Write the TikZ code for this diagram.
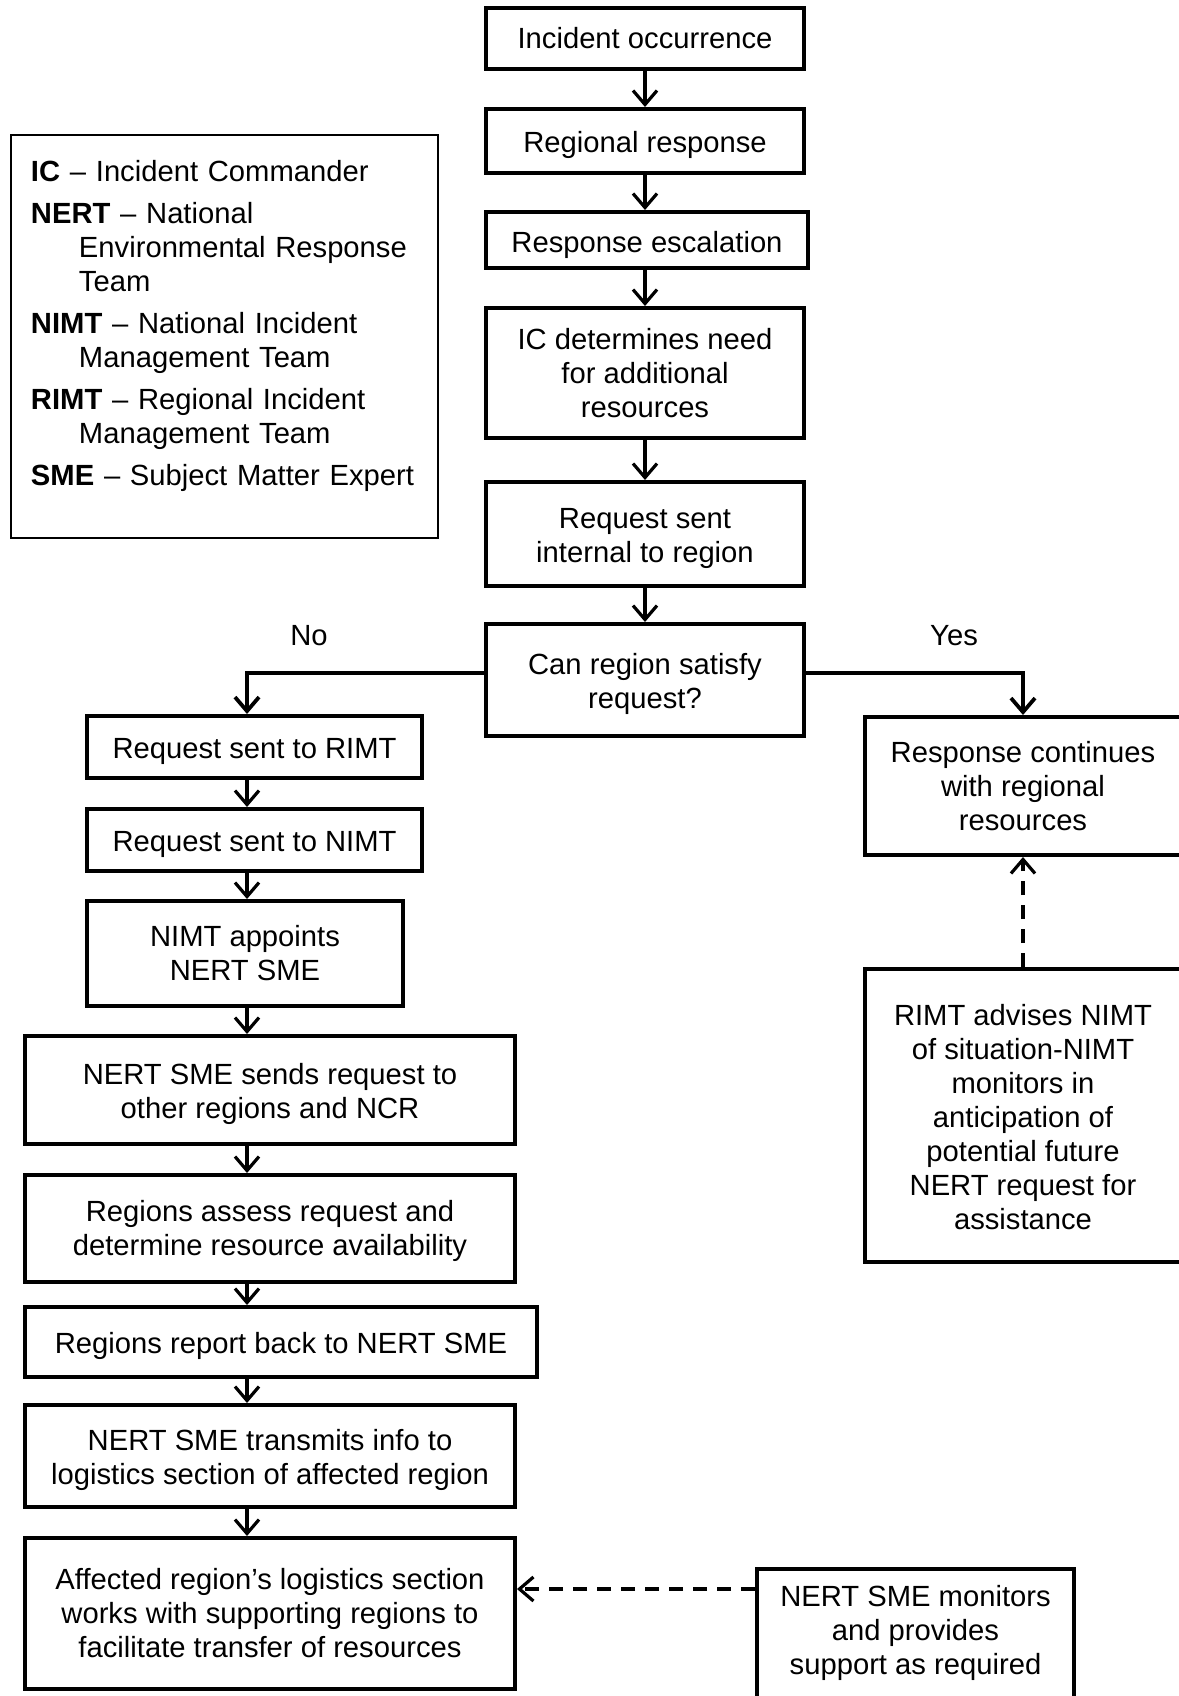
\documentclass[tikz,border=0pt]{standalone}
\usepackage{fontspec}
\setmainfont{Liberation Sans}
\usetikzlibrary{arrows.meta}

\newcommand{\tstrut}{\rule{0pt}{14.6pt}}

\tikzset{
  stepbox/.style={draw,line width=2pt,inner sep=0pt,align=center,
    font=\fontsize{14.6}{17}\selectfont},
  legendbox/.style={draw,line width=0.75pt,inner xsep=10pt,inner ysep=0pt,
    align=left,font=\fontsize{14.6}{17}\selectfont},
  flow/.style={line width=1.6pt,-{Straight Barb[length=7pt,width=12pt]}},
  flowdash/.style={flow,dash pattern=on 7pt off 5pt},
  lbl/.style={font=\fontsize{14.6}{17}\selectfont}
}

\begin{document}
\begin{tikzpicture}[x=0.5pt,y=-0.5pt]
  \useasboundingbox (0,0) rectangle (1178,1696);

  % legend
  \node[legendbox,text width=193.5pt,minimum height=201.5pt] (legend) at (224.5,336.5) {
    \textbf{IC} -- Incident Commander\\[4pt]
    \textbf{NERT} -- National\\
    \hspace*{24pt}Environmental Response\\
    \hspace*{24pt}Team\\[4pt]
    \textbf{NIMT} -- National Incident\\
    \hspace*{24pt}Management Team\\[4pt]
    \textbf{RIMT} -- Regional Incident\\
    \hspace*{24pt}Management Team\\[4pt]
    \textbf{SME} -- Subject Matter Expert\\[-3pt]
    \mbox{}
  };

  % main column
  \node[stepbox,minimum width=159pt,minimum height=30.5pt] (occ) at (645,38.5) {Incident occurrence};
  \node[stepbox,minimum width=159pt,minimum height=32pt] (regional) at (645,141) {\tstrut Regional response};
  \node[stepbox,minimum width=161pt,minimum height=28pt] (escal) at (647,240) {\rule{0pt}{15.4pt}Response escalation};
  \node[stepbox,minimum width=159pt,minimum height=65pt] (icneed) at (645,373) {IC determines need\\for additional\\resources};
  \node[stepbox,minimum width=159pt,minimum height=52pt] (internal) at (645,534) {\tstrut Request sent\\internal to region};
  \node[stepbox,minimum width=159pt,minimum height=56pt] (satisfy) at (645,680) {\tstrut Can region satisfy\\request?};

  \node[lbl] (nolbl) at (309,636) {No};
  \node[lbl] (yeslbl) at (954,636) {Yes};

  % no branch
  \coordinate (lcol) at (247,0);
  \node[stepbox,minimum width=167.5pt,minimum height=31pt] (rimt) at (254.5,747) {\tstrut Request sent to RIMT};
  \node[stepbox,minimum width=167.5pt,minimum height=31pt] (nimt) at (254.5,840) {\tstrut Request sent to NIMT};
  \node[stepbox,minimum width=158pt,minimum height=52.5pt] (appoint) at (245,953.5) {NIMT appoints\\NERT SME};
  \node[stepbox,minimum width=245pt,minimum height=54pt] (sends) at (270,1090) {\tstrut NERT SME sends request to\\other regions and NCR};
  \node[stepbox,minimum width=245pt,minimum height=53.5pt] (assess) at (270,1228.5) {\rule{0pt}{12.6pt}Regions assess request and\\determine resource availability};
  \node[stepbox,minimum width=256pt,minimum height=35pt] (report) at (281,1342) {\tstrut Regions report back to NERT SME};
  \node[stepbox,minimum width=245pt,minimum height=51pt] (transmit) at (270,1456) {\tstrut NERT SME transmits info to\\logistics section of affected region};
  \node[stepbox,minimum width=245pt,minimum height=75.5pt] (affected) at (270,1613.5) {Affected region’s logistics section\\works with supporting regions to\\facilitate transfer of resources};
  \node[stepbox,minimum width=158.5pt,minimum height=77.5pt] (monitors) at (915.5,1646.5) {NERT SME monitors\\and provides\\support as required\\\mbox{}};

  % yes branch
  \node[stepbox,minimum width=158pt,minimum height=69pt] (contin) at (1023,786) {Response continues\\with regional\\resources};
  \node[stepbox,minimum width=158pt,minimum height=146.5pt] (advises) at (1023,1115.5) {\rule{0pt}{12.6pt}RIMT advises NIMT\\of situation-NIMT\\monitors in\\anticipation of\\potential future\\NERT request for\\assistance};

  % connectors
  \draw[flow] (occ) -- (regional);
  \draw[flow] (regional) -- (escal.north -| regional.south);
  \draw[flow] (escal.south -| regional.south) -- (icneed);
  \draw[flow] (icneed) -- (internal);
  \draw[flow] (internal) -- (satisfy);
  \draw[flow,line width=1.9pt] ([yshift=3.5pt]satisfy.west) -| (rimt.north -| lcol);
  \draw[flow,line width=1.9pt] ([yshift=3.5pt]satisfy.east) -| (contin.north);
  \draw[flow] (rimt.south -| lcol) -- (nimt.north -| lcol);
  \draw[flow] (nimt.south -| lcol) -- (appoint.north -| lcol);
  \draw[flow] (appoint.south -| lcol) -- (sends.north -| lcol);
  \draw[flow] (sends.south -| lcol) -- (assess.north -| lcol);
  \draw[flow] (assess.south -| lcol) -- (report.north -| lcol);
  \draw[flow] (report.south -| lcol) -- (transmit.north -| lcol);
  \draw[flow] (transmit.south -| lcol) -- (affected.north -| lcol);
  \draw[flowdash] (advises.north) -- (contin.south);
  \draw[flowdash] ([yshift=28.75pt]monitors.west) -- ([yshift=28.75pt]monitors.west -| affected.east);
\end{tikzpicture}
\end{document}
